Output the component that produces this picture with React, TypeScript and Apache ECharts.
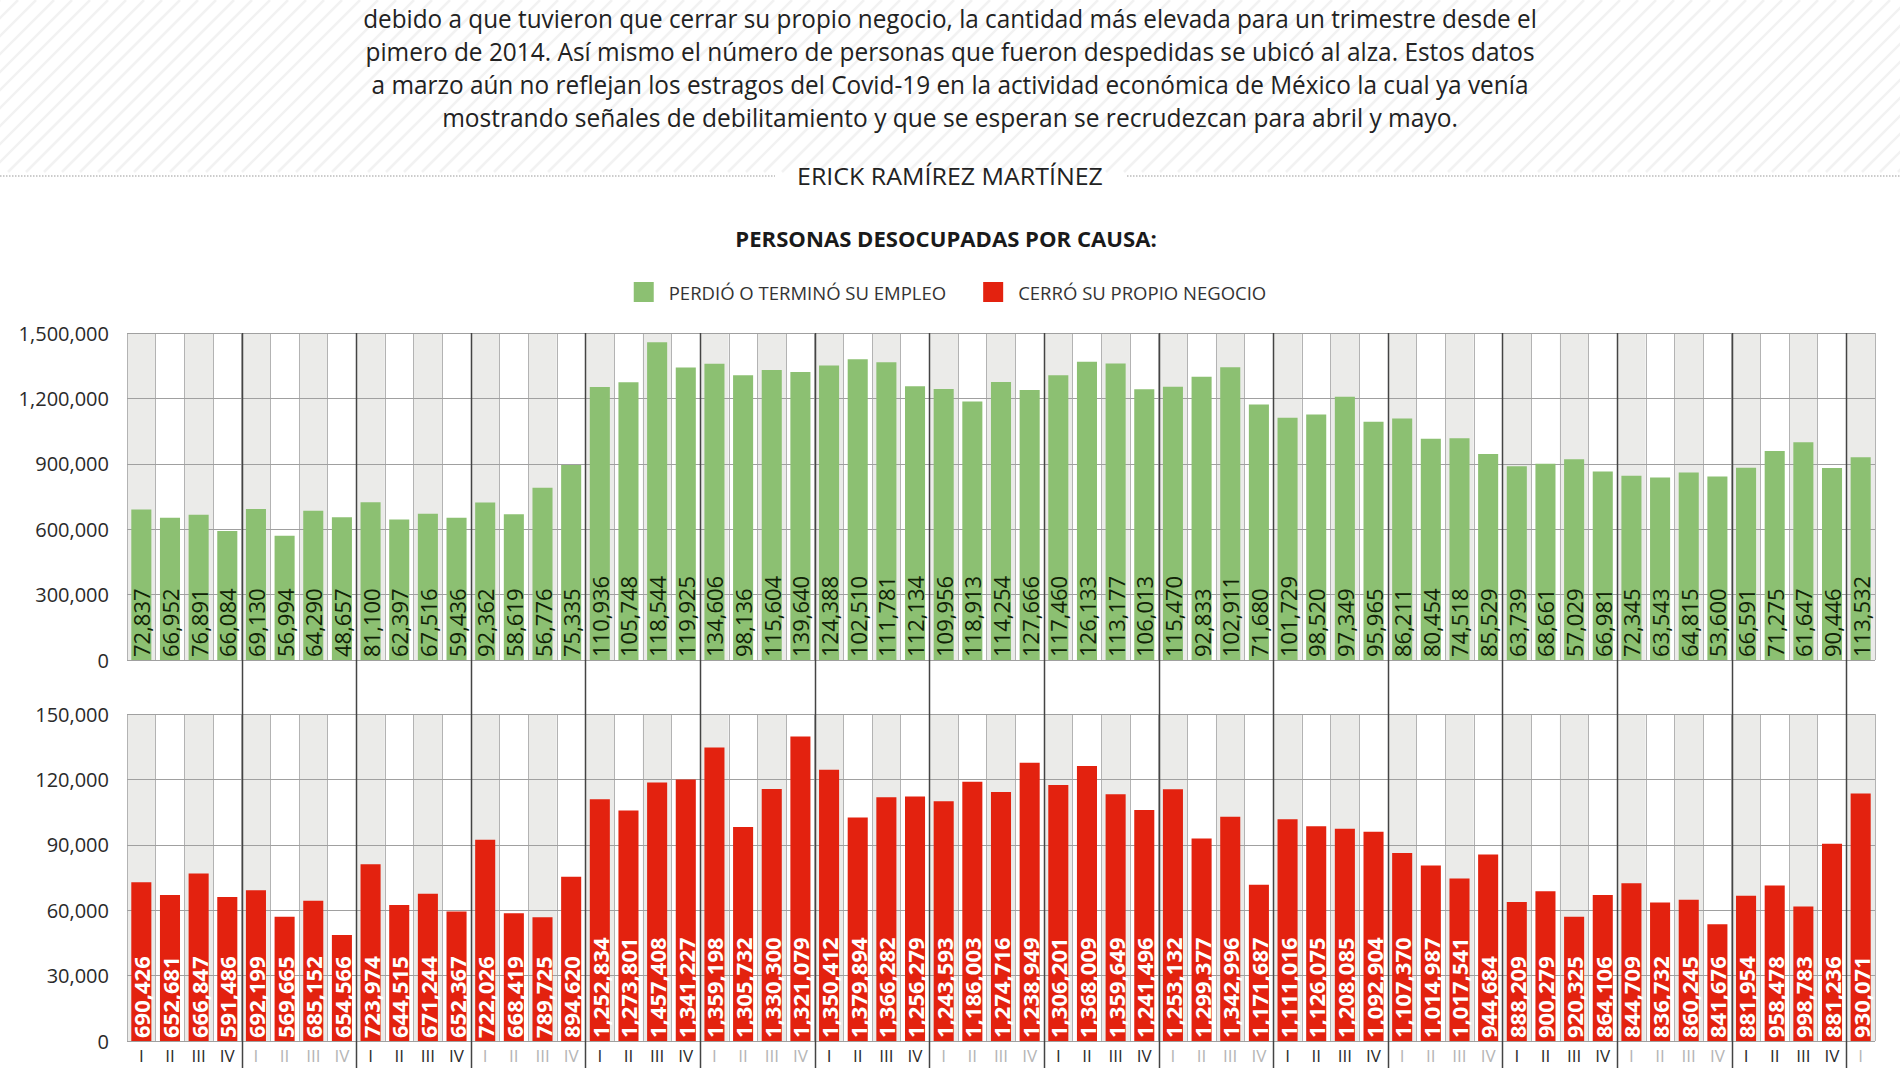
import React, { useEffect, useRef } from 'react';
import * as echarts from 'echarts';

// ---- DATA ----
const years = ['2005', '2006', '2007', '2008', '2009', '2010', '2011', '2012', '2013', '2014', '2015', '2016', '2017', '2018', '2019', '2020'];
const quarters = ['I', 'II', 'III', 'IV'];
const quartersPerYear = [4, 4, 4, 4, 4, 4, 4, 4, 4, 4, 4, 4, 4, 4, 4, 1];

// Perdió o terminó su empleo (green bar heights)
const perdioEmpleo = [
  690426, 652681, 666847, 591486,
  692199, 569665, 685152, 654566,
  723974, 644515, 671244, 652367,
  722026, 668419, 789725, 894620,
  1252834, 1273801, 1457408, 1341227,
  1359198, 1305732, 1330300, 1321079,
  1350412, 1379894, 1366282, 1256279,
  1243593, 1186003, 1274716, 1238949,
  1306201, 1368009, 1359649, 1241496,
  1253132, 1299377, 1342996, 1171687,
  1111016, 1126075, 1208085, 1092904,
  1107370, 1014987, 1017541, 944684,
  888209, 900279, 920325, 864106,
  844709, 836732, 860245, 841676,
  881954, 958478, 998783, 881236,
  930071,
];

// Cerró su propio negocio (red bar heights)
const cerroNegocio = [
  72837, 66952, 76891, 66084,
  69130, 56994, 64290, 48657,
  81100, 62397, 67516, 59436,
  92362, 58619, 56776, 75335,
  110936, 105748, 118544, 119925,
  134606, 98136, 115604, 139640,
  124388, 102510, 111781, 112134,
  109956, 118913, 114254, 127666,
  117460, 126133, 113177, 106013,
  115470, 92833, 102911, 71680,
  101729, 98520, 97349, 95965,
  86211, 80454, 74518, 85529,
  63739, 68661, 57029, 66981,
  72345, 63543, 64815, 53600,
  66591, 71275, 61647, 90446,
  113532,
];

const topTicks = { min: 0, max: 1500000, interval: 300000 };
const bottomTicks = { min: 0, max: 150000, interval: 30000 };

const nameGreen = 'PERDIÓ O TERMINÓ SU EMPLEO';
const nameRed = 'CERRÓ SU PROPIO NEGOCIO';
const titleText = 'PERSONAS DESOCUPADAS POR CAUSA:';
const authorText = 'ERICK RAMÍREZ MARTÍNEZ';
const paragraph = [
  'debido a que tuvieron que cerrar su propio negocio, la cantidad más elevada para un trimestre desde el',
  'pimero de 2014. Así mismo el número de personas que fueron despedidas se ubicó al alza. Estos datos',
  'a marzo aún no reflejan los estragos del Covid-19 en la actividad económica de México la cual ya venía',
  'mostrando señales de debilitamiento y que se esperan se recrudezcan para abril y mayo.',
];

const categories: string[] = [];
years.forEach((y, yi) => {
  for (let q = 0; q < quartersPerYear[yi]; q++) categories.push(`${y} ${quarters[q]}`);
});

// ---- STYLE ----
const FONT = "'Open Sans', 'DejaVu Sans', sans-serif";
const GREEN = '#8cc072';
const RED = '#e3220f';
const W = 1900;
const H = 1068;

const fmt = (v: number) => v.toLocaleString('en-US');

let measureCtx: CanvasRenderingContext2D | null = null;
function fitScale(text: string, font: string, width: number) {
  if (!measureCtx) measureCtx = document.createElement('canvas').getContext('2d');
  measureCtx!.font = font;
  const w = measureCtx!.measureText(text).width;
  return w > 0 ? width / w : 1;
}

function textEl(text: string, x: number, y: number, size: number, weight: string, fill: string, targetWidth?: number, lineHeight?: number) {
  const font = `${weight} ${size}px ${FONT}`;
  const scaleX = targetWidth ? fitScale(text, font, targetWidth) : 1;
  const style: any = {
    text,
    font,
    fill,
    textAlign: 'center',
    textVerticalAlign: 'middle',
    align: 'center',
    verticalAlign: 'middle',
  };
  if (lineHeight) style.lineHeight = lineHeight;
  return { type: 'text', x, y, scaleX, z: 10, style };
}

function baseGraphics() {
  const g: any[] = [];
  // hatched header background
  const hatchBottom = 172;
  for (let x0 = -hatchBottom; x0 < W + 20; x0 += 18) {
    g.push({
      type: 'line',
      z: 0,
      silent: true,
      shape: { x1: x0, y1: hatchBottom, x2: x0 + hatchBottom, y2: 0 },
      style: { stroke: '#f2f2f2', lineWidth: 2.5 },
    });
  }
  const widths = [1174, 1170, 1158, 1016];
  const ys = [18, 51, 84, 117];
  paragraph.forEach((line, i) => g.push(textEl(line, 950, ys[i], 25, 'normal', '#222', widths[i], 28)));
  // author + dotted rules
  g.push(textEl(authorText, 950, 176, 24, 'normal', '#222', 306));
  g.push({ type: 'line', z: 5, shape: { x1: 0, y1: 176, x2: 775, y2: 176 }, style: { stroke: '#999', lineWidth: 1, lineDash: [1.5, 1.5] } });
  g.push({ type: 'line', z: 5, shape: { x1: 1127, y1: 176, x2: W, y2: 176 }, style: { stroke: '#999', lineWidth: 1, lineDash: [1.5, 1.5] } });
  // chart title
  g.push(textEl(titleText, 946, 238, 22, 'bold', '#1a1a1a', 422));
  return g;
}

function buildOption(extraGraphics: any[]) {
  const xAxisCommon = {
    type: 'category',
    data: categories,
    boundaryGap: true,
    z: 0,
    axisLine: { show: false },
    axisTick: { show: false },
    splitLine: { show: true, interval: 0, lineStyle: { color: '#b3b3b3', width: 1 } },
    splitArea: { show: true, interval: 0, areaStyle: { color: ['#ebebe9', '#ffffff'] } },
  };
  const yAxisCommon = {
    type: 'value',
    z: 1,
    axisLine: { show: false },
    axisTick: { show: false },
    splitLine: { show: true, lineStyle: { color: '#a0a0a0', width: 1 } },
    axisLabel: { fontSize: 20, color: '#2a2a2a', margin: 18, fontFamily: FONT, formatter: (v: number) => fmt(v) },
  };
  return {
    animation: false,
    backgroundColor: '#ffffff',
    textStyle: { fontFamily: FONT },
    legend: {
      data: [nameGreen, nameRed],
      top: 277,
      left: 'center',
      icon: 'rect',
      itemWidth: 20,
      itemHeight: 20,
      itemGap: 37,
      textStyle: { fontSize: 18.5, color: '#333', fontFamily: FONT, padding: [0, 0, 0, 10] },
    },
    grid: [
      { left: 127, right: 25, top: 333, height: 327 },
      { left: 127, right: 25, top: 714, height: 327 },
    ],
    xAxis: [
      { ...xAxisCommon, gridIndex: 0, axisLabel: { show: false, interval: 0 } },
      {
        ...xAxisCommon,
        gridIndex: 1,
        axisLabel: {
          show: true,
          interval: 0,
          margin: 6,
          fontSize: 17,
          fontFamily: FONT,
          formatter: (v: string) => v.split(' ')[1],
          color: (_v: any, index: number) => (Math.floor(index / 4) % 2 === 0 ? '#2a2a2a' : '#b5b5b5'),
        },
      },
    ],
    yAxis: [
      { ...yAxisCommon, gridIndex: 0, ...topTicks },
      { ...yAxisCommon, gridIndex: 1, ...bottomTicks },
    ],
    series: [
      {
        name: nameGreen,
        type: 'bar',
        xAxisIndex: 0,
        yAxisIndex: 0,
        barWidth: '70%',
        data: perdioEmpleo,
        itemStyle: { color: GREEN },
        label: {
          show: true,
          position: 'insideBottom',
          rotate: 90,
          align: 'left',
          verticalAlign: 'middle',
          distance: 3,
          fontSize: 22,
          fontFamily: FONT,
          color: '#102206',
          formatter: (p: any) => fmt(cerroNegocio[p.dataIndex]),
        },
      },
      {
        name: nameRed,
        type: 'bar',
        xAxisIndex: 1,
        yAxisIndex: 1,
        barWidth: '70%',
        data: cerroNegocio,
        itemStyle: { color: RED },
        label: {
          show: true,
          position: 'insideBottom',
          rotate: 90,
          align: 'left',
          verticalAlign: 'middle',
          distance: 3,
          fontSize: 22,
          fontWeight: 'bold',
          fontFamily: FONT,
          color: '#ffffff',
          formatter: (p: any) => fmt(perdioEmpleo[p.dataIndex]),
        },
      },
    ],
    graphic: [...baseGraphics(), ...extraGraphics],
  };
}

export default function App() {
  const ref = useRef<HTMLDivElement>(null);
  useEffect(() => {
    if (!ref.current) return;
    const chart = echarts.init(ref.current, null, { renderer: 'svg', width: W, height: H });
    chart.setOption(buildOption([]) as any);
    // year separators computed from the axes
    const c0 = chart.convertToPixel({ xAxisIndex: 0 }, categories[0]) as number;
    const c1 = chart.convertToPixel({ xAxisIndex: 0 }, categories[1]) as number;
    const band = c1 - c0;
    const yTop = chart.convertToPixel({ yAxisIndex: 0 }, topTicks.max) as number;
    const lines: any[] = [];
    let idx = 0;
    quartersPerYear.forEach((n, yi) => {
      if (yi > 0) {
        const x = Math.round((chart.convertToPixel({ xAxisIndex: 0 }, categories[idx]) as number) - band / 2) + 0.5;
        lines.push({
          type: 'line',
          z: 20,
          silent: true,
          shape: { x1: x, y1: yTop, x2: x, y2: H },
          style: { stroke: '#444', lineWidth: 1.5 },
        });
      }
      idx += n;
    });
    chart.setOption(buildOption(lines) as any, true);
    return () => chart.dispose();
  }, []);
  return <div ref={ref} style={{ position: 'fixed', left: 0, top: 0, width: W, height: H }} />;
}
